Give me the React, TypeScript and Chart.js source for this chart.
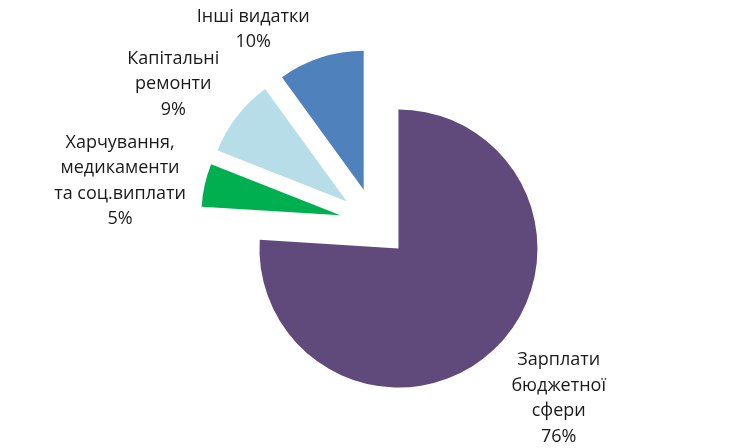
import React, { useEffect, useRef } from 'react';
import { Chart, registerables } from 'chart.js';

Chart.register(...registerables);

// Category labels (line-broken as in the reference)
const categoryLines: string[][] = [
  ['Зарплати', 'бюджетної', 'сфери'],
  ['Харчування,', 'медикаменти', 'та соц.виплати'],
  ['Капітальні', 'ремонти'],
  ['Інші видатки'],
];
const categories = categoryLines.map((l) => l.join(' '));
const values = [76, 5, 9, 10];
const colors = ['#604A7B', '#00B050', '#B7DEE8', '#4F81BD'];

const FONT = '18px "Open Sans", "Noto Sans", sans-serif';
const LINE_H = 25.5;

const explodePlugin = {
  id: 'explodeSlices',
  afterDatasetsUpdate(chart: any, _args: any, opts: any) {
    const meta = chart.getDatasetMeta(0);
    meta.data.forEach((arc: any) => {
      const mid = (arc.startAngle + arc.endAngle) / 2;
      arc.x += Math.cos(mid) * opts.distance;
      arc.y += Math.sin(mid) * opts.distance;
    });
  },
};

const labelPlugin = {
  id: 'sliceLabels',
  afterDatasetsDraw(chart: any, _args: any, opts: any) {
    const ctx: CanvasRenderingContext2D = chart.ctx;
    const meta = chart.getDatasetMeta(0);
    const data: number[] = chart.data.datasets[0].data;
    const total = data.reduce((a, b) => a + b, 0);
    ctx.save();
    ctx.font = FONT;
    ctx.fillStyle = opts.color;
    ctx.textAlign = 'center';
    ctx.textBaseline = 'middle';
    meta.data.forEach((arc: any, i: number) => {
      const lines = [...categoryLines[i], Math.round((data[i] / total) * 100) + '%'];
      const w = Math.max(...lines.map((l) => ctx.measureText(l).width));
      const h = lines.length * LINE_H;
      const mid = (arc.startAngle + arc.endAngle) / 2 + opts.angleShift;
      const ux = Math.cos(mid);
      const uy = Math.sin(mid);
      // outside-end placement: box edge sits a small gap beyond the rim
      const d = arc.outerRadius + opts.gap + Math.abs(ux) * (w / 2) + Math.abs(uy) * (h / 2);
      let cx = arc.x + ux * d;
      let cy = arc.y + uy * d;
      if (cy - h / 2 < opts.margin) {
        // slide along the same circle until the box fits inside the chart
        cy = opts.margin + h / 2;
        const dy = cy - arc.y;
        const dx = Math.sqrt(Math.max(d * d - dy * dy, 0));
        cx = arc.x + Math.sign(ux) * dx;
      }
      lines.forEach((line, k) => {
        ctx.fillText(line, cx, cy - h / 2 + LINE_H * (k + 0.5));
      });
    });
    ctx.restore();
  },
};

export default function App() {
  const ref = useRef<HTMLCanvasElement>(null);
  useEffect(() => {
    if (!ref.current) return;
    const chart = new Chart(ref.current, {
      type: 'pie',
      data: {
        labels: categories,
        datasets: [
          {
            data: values,
            backgroundColor: colors,
            borderWidth: 0,
          },
        ],
      },
      options: {
        animation: false,
        responsive: false,
        radius: 139,
        layout: { padding: { top: 0, bottom: 2, left: 0, right: 0 } },
        plugins: {
          legend: { display: false },
          tooltip: { enabled: false },
          explodeSlices: { distance: 35 },
          sliceLabels: { gap: 11, angleShift: -0.065, margin: 4, color: '#1a1a1a' },
        } as any,
      },
      plugins: [explodePlugin, labelPlugin],
    });
    return () => chart.destroy();
  }, []);
  return (
    <div style={{ position: 'fixed', left: 0, top: 0, width: 749, height: 448, background: '#fff' }}>
      <canvas ref={ref} width={749} height={448} style={{ display: 'block' }} />
    </div>
  );
}
